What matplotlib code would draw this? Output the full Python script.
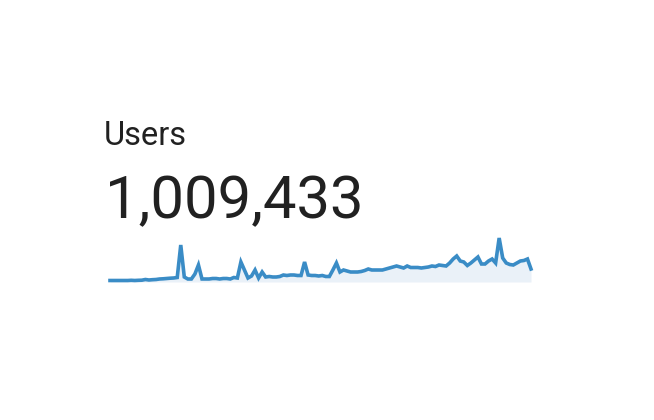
import matplotlib
matplotlib.use('Agg')
import matplotlib.pyplot as plt
import numpy as np

# headline
title = 'Users'
total = '1,009,433'

# daily users (relative scale)
users = [1.5, 1.5, 1.5, 1.5, 1.5, 1.5, 1.7, 1.5, 1.7, 1.8,
         2.5, 2.0, 2.3, 2.5, 3.0, 3.2, 3.5, 3.8, 4.0, 4.5,
         37, 5.0, 3.0, 3.0, 8.0, 17, 3.0, 3.0, 3.0, 3.5,
         3.5, 3.0, 3.5, 3.5, 3.0, 4.5, 4.0, 20, 12, 4.0,
         6.0, 12, 4.0, 10, 5.0, 5.5, 5.0, 5.0, 5.5, 7.0,
         6.5, 7.0, 7.0, 6.5, 6.5, 20, 7.0, 6.5, 6.5, 6.0,
         6.5, 5.5, 5.5, 12, 19, 10, 12, 11, 10, 10,
         10, 10.5, 11.5, 13, 12, 12, 12, 12, 13, 14,
         15, 16, 15, 14, 16, 14.5, 14.5, 14.5, 14, 14.5,
         15, 16, 15.5, 17, 16.5, 16, 19, 23, 26, 21,
         20, 16.5, 19, 22, 25, 18, 18, 21, 23, 19,
         44, 24, 19, 17.5, 17, 19, 21, 21.5, 23, 13]

W, H = 654, 420
fig = plt.figure(figsize=(W/100, H/100), dpi=100)
fig.patch.set_facecolor('white')

txt_color = '#212121'
fig.text(104/W, 1 - 145/H, title, fontsize=23.5, family=['Roboto', 'DejaVu Sans'],
         color=txt_color, ha='left', va='baseline')
fig.text(104.5/W, 1 - 218.5/H, total, fontsize=43, family=['Roboto', 'DejaVu Sans'],
         color=txt_color, ha='left', va='baseline')

# sparkline
x0, x1, ybot, ytop = 110, 531, 282, 237
ax = fig.add_axes([x0/W, 1 - ybot/H, (x1-x0)/W, (ybot-ytop)/H])
x = np.arange(len(users))
ax.fill_between(x, users, 0, color='#eaf1f8', lw=0)
ax.plot(x, users, color='#3a8cc6', lw=2.6, solid_joinstyle='miter', clip_on=False)
ax.set_xlim(0, len(users) - 1)
ax.set_ylim(0, 45)
ax.axis('off')

fig.savefig('out.png', dpi=100)
